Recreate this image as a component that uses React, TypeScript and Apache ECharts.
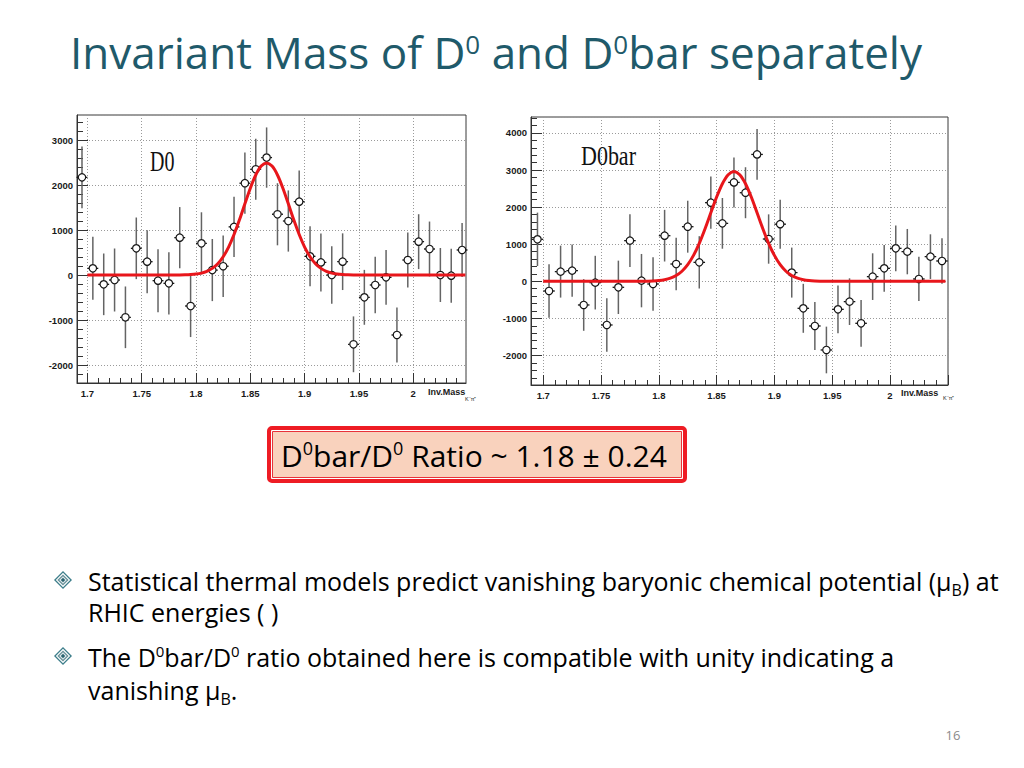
import React, { useEffect, useRef } from "react";
import * as echarts from "echarts";

// ---------- data ----------
const binCenters = [
  1.695, 1.705, 1.715, 1.725, 1.735, 1.745, 1.755, 1.765, 1.775, 1.785, 1.795, 1.805,
  1.815, 1.825, 1.835, 1.845, 1.855, 1.865, 1.875, 1.885, 1.895, 1.905, 1.915, 1.925,
  1.935, 1.945, 1.955, 1.965, 1.975, 1.985, 1.995, 2.005, 2.015, 2.025, 2.035, 2.045,
];

const d0Counts = [
  2170, 148, -207, -111, -940, 593, 296, -126, -185, 830, -689, 704,
  110, 195, 1070, 2040, 2350, 2610, 1350, 1200, 1630, 415, 280, 0,
  296, -1540, -496, -222, -52, -1333, 333, 741, 578, 0, -15, 556,
];
const d0Errors = [
  685, 700, 685, 700, 685, 685, 700, 700, 690, 680, 690, 690,
  690, 685, 670, 680, 680, 670, 690, 680, 690, 667, 644, 640,
  630, 620, 610, 630, 610, 610, 610, 610, 610, 600, 600, 600,
];

const d0barCounts = [
  1132, -261, 261, 288, -638, -36, -1177, -162, 1096, 18, -72, 1230,
  466, 1472, 511, 2120, 1562, 2666, 2388, 3420, 1140, 1540, 235, -728,
  -1204, -1851, -755, -548, -1132, 126, 350, 889, 800, 63, 665, 548,
];
const d0barErrors = [
  719, 719, 700, 705, 696, 723, 719, 719, 710, 719, 719, 696,
  710, 700, 705, 705, 683, 674, 687, 683, 665, 660, 674, 660,
  647, 629, 642, 629, 629, 629, 629, 615, 611, 597, 602, 611,
];

// Gaussian fit curves (red)
const fitX = [
  1.7, 1.78, 1.785, 1.79, 1.795, 1.8, 1.805, 1.81, 1.815, 1.82, 1.825, 1.83, 1.835,
  1.84, 1.845, 1.85, 1.855, 1.86, 1.865, 1.87, 1.875, 1.88, 1.885, 1.89, 1.895,
  1.9, 1.905, 1.91, 1.915, 1.92, 1.925, 1.93, 1.935, 1.94, 1.945, 1.95, 2.048,
];
const d0Fit = [
  0, 0, 1, 4, 10, 21, 42, 81, 147, 251, 406, 621, 900,
  1226, 1582, 1929, 2223, 2420, 2490, 2420, 2223, 1929, 1582, 1226, 900,
  621, 406, 251, 147, 81, 42, 21, 10, 4, 1, 0, 0,
];
const d0barFit = [
  0, 0, 1, 4, 9, 20, 43, 84, 156, 272, 449, 699, 1025,
  1418, 1848, 2271, 2631, 2874, 2960, 2874, 2631, 2271, 1848, 1418, 1025,
  699, 449, 272, 156, 84, 43, 20, 9, 4, 1, 0, 0,
];

// axis extents
const leftXRange = [1.6904, 2.0486];
const leftYRange = [-2400, 3556];
const rightXRange = [1.6894, 2.0502];
const rightYRange = [-2795, 4429];

// labelled ticks
const xTickLabels = [1.7, 1.75, 1.8, 1.85, 1.9, 1.95, 2];
const yTickLabels = [-2000, -1000, 0, 1000, 2000, 3000, 4000];

function steps(start: number, stop: number, step: number, lo: number, hi: number) {
  const out: number[] = [];
  for (let v = start; v <= stop + 1e-9; v += step) {
    const r = Math.round(v * 1e6) / 1e6;
    if (r > lo && r < hi) out.push(r);
  }
  return out;
}

const AXIS_COLOR = "#333333";
const LABEL_FONT = "Liberation Sans, Arial, sans-serif";

function isLabelled(v: number, list: number[]) {
  return list.some((t) => Math.abs(t - v) < 1e-6);
}

function mainX(grid: number, range: number[]) {
  return {
    type: "value",
    gridIndex: grid,
    min: range[0],
    max: range[1],
    splitNumber: 7,
    position: "bottom",
    axisLine: { show: true, onZero: false, lineStyle: { color: AXIS_COLOR, width: 1 } },
    axisTick: { show: true, inside: true, length: 10, lineStyle: { color: AXIS_COLOR, width: 1 } },
    minorTick: { show: false },
    splitLine: { show: true, lineStyle: { color: "#9a9a9a", type: [1, 2], width: 1 } },
    axisLabel: {
      showMinLabel: false,
      showMaxLabel: false,
      margin: 5,
      fontSize: 9.5,
      fontWeight: "bold",
      fontFamily: LABEL_FONT,
      color: "#1a1a1a",
      formatter: (v: number) => (isLabelled(v, xTickLabels) ? String(Math.round(v * 1000) / 1000) : ""),
    },
  };
}
function minorX(grid: number, range: number[]) {
  return {
    type: "value",
    gridIndex: grid,
    min: range[0],
    max: range[1],
    position: "bottom",
    axisLine: { show: false, onZero: false },
    axisTick: {
      show: true,
      inside: true,
      length: 5,
      lineStyle: { color: AXIS_COLOR, width: 1 },
      customValues: steps(1.69, 2.06, 0.01, range[0], range[1]),
    },
    splitLine: { show: false },
    axisLabel: { show: false },
  };
}
function mainY(grid: number, range: number[]) {
  return {
    type: "value",
    gridIndex: grid,
    min: range[0],
    max: range[1],
    splitNumber: 7,
    position: "left",
    axisLine: { show: true, onZero: false, lineStyle: { color: AXIS_COLOR, width: 1 } },
    axisTick: { show: true, inside: true, length: 11, lineStyle: { color: AXIS_COLOR, width: 1 } },
    minorTick: { show: false },
    splitLine: { show: true, lineStyle: { color: "#9a9a9a", type: [1, 2], width: 1 } },
    axisLabel: {
      showMinLabel: false,
      showMaxLabel: false,
      margin: 4,
      fontSize: 9.5,
      fontWeight: "bold",
      fontFamily: LABEL_FONT,
      color: "#1a1a1a",
      formatter: (v: number) => (isLabelled(v, yTickLabels) ? String(Math.round(v)) : ""),
    },
  };
}
function minorY(grid: number, range: number[]) {
  return {
    type: "value",
    gridIndex: grid,
    min: range[0],
    max: range[1],
    position: "left",
    axisLine: { show: false, onZero: false },
    axisTick: {
      show: true,
      inside: true,
      length: 6,
      lineStyle: { color: AXIS_COLOR, width: 1 },
      customValues: steps(-3000, 4600, 200, range[0], range[1]),
    },
    splitLine: { show: false },
    axisLabel: { show: false },
  };
}

function errSeries(axisIndex: number, counts: number[], errs: number[]) {
  return {
    type: "custom",
    xAxisIndex: axisIndex,
    yAxisIndex: axisIndex,
    z: 3,
    clip: false,
    data: binCenters.map((x, i) => [x, counts[i], errs[i]]),
    encode: { x: 0, y: 1 },
    renderItem: (_params: any, api: any) => {
      const x = api.value(0);
      const y = api.value(1);
      const e = api.value(2);
      const c = api.coord([x, y]);
      const top = api.coord([x, y + e]);
      const bot = api.coord([x, y - e]);
      const l = api.coord([x - 0.005, y]);
      const r = api.coord([x + 0.005, y]);
      const rad = 3.7;
      const vStyle = { stroke: "#646464", lineWidth: 1.5 };
      const hStyle = { stroke: "#151515", lineWidth: 1.3 };
      return {
        type: "group",
        children: [
          { type: "line", shape: { x1: c[0], y1: top[1], x2: c[0], y2: c[1] - rad }, style: vStyle },
          { type: "line", shape: { x1: c[0], y1: c[1] + rad, x2: c[0], y2: bot[1] }, style: vStyle },
          { type: "line", shape: { x1: l[0], y1: c[1], x2: c[0] - rad, y2: c[1] }, style: hStyle },
          { type: "line", shape: { x1: c[0] + rad, y1: c[1], x2: r[0], y2: c[1] }, style: hStyle },
          {
            type: "circle",
            shape: { cx: c[0], cy: c[1], r: rad },
            style: { fill: "#ffffff", stroke: "#151515", lineWidth: 1.2 },
          },
        ],
      };
    },
  };
}

function fitSeries(axisIndex: number, values: number[]) {
  return {
    type: "line",
    xAxisIndex: axisIndex,
    yAxisIndex: axisIndex,
    z: 4,
    data: fitX.map((x, i) => [x, values[i]]),
    smooth: 0.3,
    symbol: "none",
    showSymbol: false,
    lineStyle: { color: "#e8161b", width: 3 },
    silent: true,
  };
}

const BODY_FONT = "Open Sans, Noto Sans, sans-serif";

function diamond(cx: number, cy: number) {
  const layers: [number, string][] = [
    [9, "#3a7c89"],
    [7.2, "#ffffff"],
    [5.6, "#668f97"],
    [3.8, "#e0eaec"],
    [2.2, "#2a6470"],
  ];
  return {
    type: "group",
    children: layers.map(([s, col]) => ({
      type: "polygon",
      shape: { points: [[cx, cy - s], [cx + s, cy], [cx, cy + s], [cx - s, cy]] },
      style: { fill: col },
    })),
  };
}

function richLine(x: number, y: number, text: string, fontSize: number, lineHeight: number, color: string, supDrop: number) {
  return {
    type: "text",
    x,
    y,
    z: 10,
    style: {
      text,
      fill: color,
      fontSize,
      fontFamily: BODY_FONT,
      lineHeight,
      verticalAlign: "top",
      align: "left",
      rich: {
        sup: {
          fontSize: Math.round(fontSize * 0.6),
          fontFamily: BODY_FONT,
          fill: color,
          verticalAlign: "top",
          padding: [supDrop, 0, 0, 0],
        },
        sub: {
          fontSize: Math.round(fontSize * 0.62),
          fontFamily: BODY_FONT,
          fill: color,
          lineHeight: Math.round(lineHeight * 0.55),
          verticalAlign: "bottom",
        },
      },
    },
  };
}

function buildOption() {
  return {
    animation: false,
    backgroundColor: "#ffffff",
    grid: [
      { left: 77, top: 115, width: 389, height: 268, show: true, borderColor: "#3a3a3a", borderWidth: 1, backgroundColor: "#ffffff", outerBoundsMode: "none" },
      { left: 531, top: 117, width: 417, height: 268, show: true, borderColor: "#3a3a3a", borderWidth: 1, backgroundColor: "#ffffff", outerBoundsMode: "none" },
    ],
    xAxis: [mainX(0, leftXRange), minorX(0, leftXRange), mainX(1, rightXRange), minorX(1, rightXRange)],
    yAxis: [mainY(0, leftYRange), minorY(0, leftYRange), mainY(1, rightYRange), minorY(1, rightYRange)],
    series: [
      errSeries(0, d0Counts, d0Errors),
      fitSeries(0, d0Fit),
      errSeries(2, d0barCounts, d0barErrors),
      fitSeries(2, d0barFit),
    ],
    graphic: [
      // slide title
      richLine(70, 24, "Invariant Mass of D{sup|0} and D{sup|0}bar separately", 44, 56, "#1f5a6a", 7),
      // plot labels
      {
        type: "text", x: 150, y: 161, scaleY: 1.45, z: 10,
        style: { text: "D0", fontSize: 20, fontFamily: "Liberation Serif, Times New Roman, serif", fill: "#111", verticalAlign: "middle", align: "left" },
      },
      {
        type: "text", x: 581, y: 156, scaleY: 1.25, z: 10,
        style: { text: "D0bar", fontSize: 22, fontFamily: "Liberation Serif, Times New Roman, serif", fill: "#111", verticalAlign: "middle", align: "left" },
      },
      {
        type: "text", x: 428, y: 392, z: 10,
        style: { text: "Inv.Mass", fontSize: 9, fontWeight: "bold", fontFamily: LABEL_FONT, fill: "#1a1a1a", verticalAlign: "middle" },
      },
      {
        type: "text", x: 465, y: 399, z: 10,
        style: { text: "K⁻π⁺", fontSize: 5.5, fontFamily: LABEL_FONT, fill: "#1a1a1a", verticalAlign: "middle" },
      },
      {
        type: "text", x: 901, y: 393, z: 10,
        style: { text: "Inv.Mass", fontSize: 9, fontWeight: "bold", fontFamily: LABEL_FONT, fill: "#1a1a1a", verticalAlign: "middle" },
      },
      {
        type: "text", x: 943, y: 398, z: 10,
        style: { text: "K⁻π⁺", fontSize: 5.5, fontFamily: LABEL_FONT, fill: "#1a1a1a", verticalAlign: "middle" },
      },
      // ratio box
      {
        type: "rect", z: 9,
        shape: { x: 269, y: 428, width: 416, height: 53, r: 3 },
        style: { fill: "#ffffff", stroke: "#ee1c24", lineWidth: 4 },
      },
      {
        type: "rect", z: 9,
        shape: { x: 272.5, y: 431.5, width: 409, height: 46 },
        style: { fill: "#f9d2bd", stroke: "#e8323a", lineWidth: 1 },
      },
      richLine(281, 435, "D{sup|0}bar/D{sup|0} Ratio ~ 1.18 ± 0.24", 30, 40, "#000000", 4),
      // bullets
      diamond(63, 580),
      diamond(63, 656),
      richLine(88, 564, "Statistical thermal models predict vanishing baryonic chemical potential (μ{sub|B}) at", 25, 34, "#000000", 3),
      richLine(88, 595, "RHIC energies ( )", 25, 34, "#000000", 3),
      richLine(88, 640, "The D{sup|0}bar/D{sup|0} ratio obtained here is compatible with unity indicating a", 25, 34, "#000000", 3),
      richLine(88, 673, "vanishing μ{sub|B}.", 25, 34, "#000000", 3),
      // page number
      {
        type: "text", x: 953, y: 735, z: 10,
        style: { text: "16", fontSize: 13, fontFamily: BODY_FONT, fill: "#8c8c8c", align: "center", verticalAlign: "middle" },
      },
    ],
  };
}

export default function App() {
  const ref = useRef<HTMLDivElement | null>(null);
  useEffect(() => {
    if (!ref.current) return;
    const chart = echarts.init(ref.current, undefined, { renderer: "svg" });
    chart.setOption(buildOption() as any);
    return () => chart.dispose();
  }, []);
  return (
    <div
      ref={ref}
      style={{ position: "fixed", left: 0, top: 0, width: 1024, height: 768, background: "#ffffff" }}
    />
  );
}
